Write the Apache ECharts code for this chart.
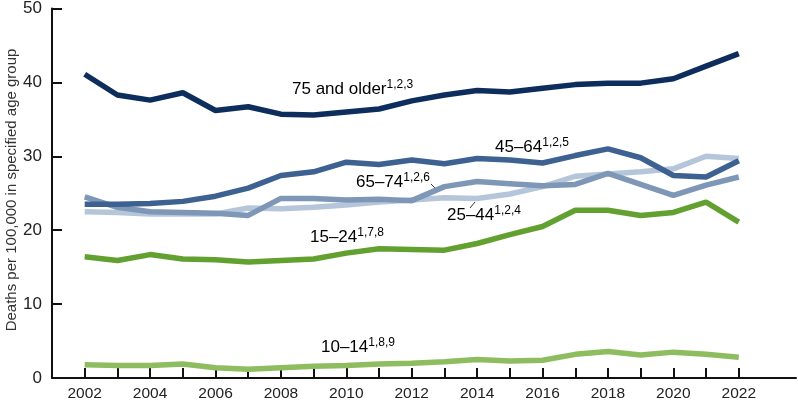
<!DOCTYPE html>
<html>
<head>
<meta charset="utf-8">
<script src="https://cdn.jsdelivr.net/npm/echarts@6/dist/echarts.min.js"></script>
<style>
  html, body { margin: 0; padding: 0; background: #fff; }
  #chart { width: 798px; height: 404px; }
</style>
</head>
<body>
<div id="chart"></div>
<script>
const years = [2002, 2003, 2004, 2005, 2006, 2007, 2008, 2009, 2010, 2011, 2012,
  2013, 2014, 2015, 2016, 2017, 2018, 2019, 2020, 2021, 2022];
const yearLabels = [2002, 2004, 2006, 2008, 2010, 2012, 2014, 2016, 2018, 2020, 2022];

const age75plus = [41.1, 38.3, 37.6, 38.6, 36.2, 36.7, 35.7, 35.6, 36.0, 36.4, 37.5,
  38.3, 38.9, 38.7, 39.2, 39.7, 39.9, 39.9, 40.5, 42.2, 43.9];
const age45to64 = [23.5, 23.5, 23.6, 23.9, 24.6, 25.7, 27.4, 27.9, 29.2, 28.9, 29.5,
  29.0, 29.7, 29.5, 29.1, 30.1, 31.0, 29.8, 27.4, 27.2, 29.4];
const age65to74 = [24.5, 23.1, 22.5, 22.4, 22.3, 22.0, 24.3, 24.3, 24.1, 24.2, 24.0,
  25.9, 26.6, 26.3, 26.0, 26.2, 27.7, 26.2, 24.7, 26.1, 27.2];
const age25to44 = [22.5, 22.4, 22.2, 22.2, 22.2, 23.0, 22.9, 23.1, 23.4, 23.8, 24.1,
  24.4, 24.3, 24.9, 25.9, 27.3, 27.6, 27.9, 28.3, 30.0, 29.7];
const age15to24 = [16.4, 15.9, 16.7, 16.1, 16.0, 15.7, 15.9, 16.1, 16.9, 17.5, 17.4,
  17.3, 18.2, 19.4, 20.5, 22.7, 22.7, 22.0, 22.4, 23.8, 21.1];
const age10to14 = [1.8, 1.7, 1.7, 1.9, 1.4, 1.2, 1.4, 1.6, 1.7, 1.9, 2.0,
  2.2, 2.5, 2.3, 2.4, 3.2, 3.6, 3.1, 3.5, 3.2, 2.8];

const yTicks = [0, 10, 20, 30, 40, 50];

// drawing order: light lines underneath
const groups = [
  { name: '10–14', data: age10to14, color: '#8dbd5f' },
  { name: '15–24', data: age15to24, color: '#62a030' },
  { name: '25–44', data: age25to44, color: '#b6c6da' },
  { name: '65–74', data: age65to74, color: '#7f97b7' },
  { name: '45–64', data: age45to64, color: '#3d6190' },
  { name: '75 and older', data: age75plus, color: '#0d2d5d' }
];

let chart = echarts.init(document.getElementById('chart'));

const font = 'Liberation Sans, Arial, sans-serif';
const rich = {
  t: { fontSize: 17, color: '#222', fontFamily: font },
  s: { fontSize: 12, color: '#444', fontFamily: font, verticalAlign: 'top', padding: [0, 0, 8, 0] }
};

function label(x, y, main, sup) {
  return {
    type: 'text',
    left: x,
    top: y,
    style: { text: '{t|' + main + '}{s|' + sup + '}', rich: rich }
  };
}

let option = {
  animation: false,
  grid: { left: 52, right: 2, top: 8.5, bottom: 26, outerBoundsMode: 'none' },
  xAxis: {
    type: 'value',
    min: 2001,
    max: 2023.75,
    axisLine: { lineStyle: { color: '#111', width: 2 } },
    axisTick: {
      inside: true,
      length: 10,
      lineStyle: { color: '#111', width: 2 },
      customValues: years
    },
    axisLabel: {
      customValues: yearLabels,
      formatter: v => String(v),
      color: '#222',
      fontSize: 15.5,
      margin: 8,
      fontFamily: font
    },
    splitLine: { show: false }
  },
  yAxis: {
    type: 'value',
    min: 0,
    max: 50,
    interval: 10,
    axisLine: { show: true, lineStyle: { color: '#111', width: 2 } },
    axisTick: { show: true, inside: true, length: 10, lineStyle: { color: '#111', width: 2 } },
    axisLabel: {
      customValues: yTicks,
      color: '#222',
      fontSize: 17,
      margin: 10,
      fontFamily: font
    },
    splitLine: { show: false }
  },
  series: groups.map(g => ({
    name: g.name,
    type: 'line',
    data: years.map((yr, i) => [yr, g.data[i]]),
    showSymbol: false,
    lineStyle: { color: g.color, width: 5.5 },
    itemStyle: { color: g.color }
  })),
  graphic: [
    // y axis title
    {
      type: 'text',
      x: 12,
      y: 190,
      rotation: Math.PI / 2,
      style: {
        text: 'Deaths per 100,000 in specified age group',
        fill: '#333',
        fontSize: 15,
        fontFamily: font,
        align: 'center',
        verticalAlign: 'middle'
      }
    },
    label(292, 79, '75 and older', '1,2,3'),
    label(495, 137, '45–64', '1,2,5'),
    label(356, 172, '65–74', '1,2,6'),
    label(447, 205, '25–44', '1,2,4'),
    label(310, 227, '15–24', '1,7,8'),
    label(321, 337, '10–14', '1,8,9'),
    { type: 'line', shape: { x1: 431, y1: 184, x2: 438, y2: 191 }, style: { stroke: '#333', lineWidth: 1 } },
    { type: 'line', shape: { x1: 475, y1: 202, x2: 470, y2: 208 }, style: { stroke: '#333', lineWidth: 1 } }
  ]
};

chart.setOption(option);
</script>
</body>
</html>
